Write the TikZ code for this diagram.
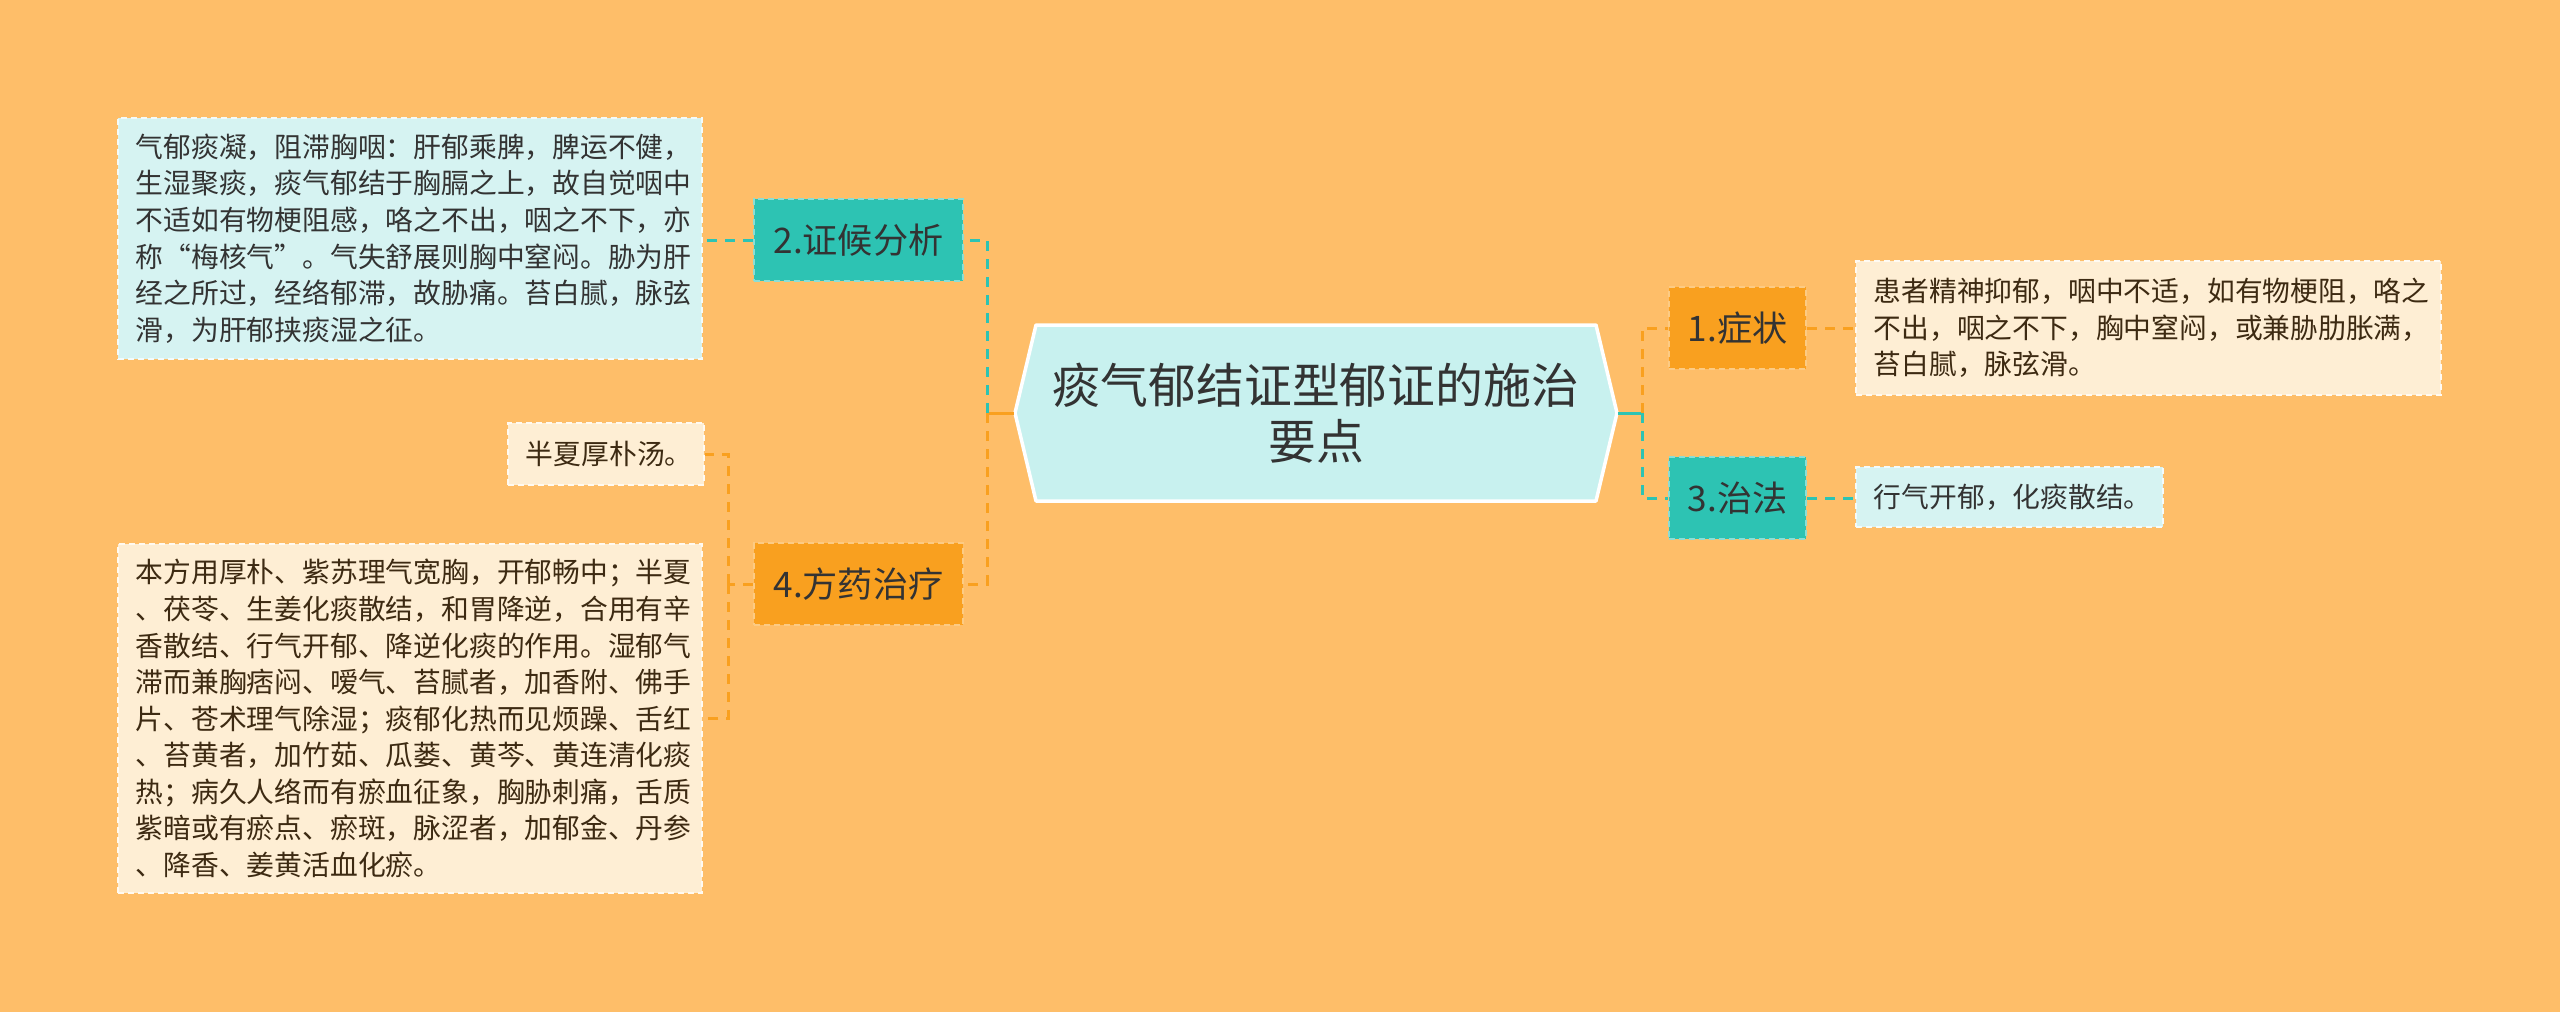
\documentclass[tikz,border=0pt]{standalone}
\usepackage{fontspec}
\newfontfamily\cjk{Noto Sans CJK SC}
\usepackage{tikz}
\usetikzlibrary{positioning}
\definecolor{bgorange}{HTML}{FEBE69}
\definecolor{nodeorange}{HTML}{F9A01F}
\definecolor{nodeteal}{HTML}{2DC3B3}
\definecolor{leafcyan}{HTML}{D6F3F2}
\definecolor{leafcream}{HTML}{FEEED4}
\definecolor{hexfill}{HTML}{C8F1EF}
\definecolor{darktext}{HTML}{333333}
\definecolor{browntext}{HTML}{3D2A12}
\tikzset{
  branch/.style={minimum width=2.09cm, minimum height=0.82cm, inner sep=0pt,
    font=\cjk\fontsize{10pt}{12pt}\selectfont, text=darktext,
    line width=0.02cm, dash pattern=on 0.06cm off 0.04cm},
  tealbox/.style={branch, fill=nodeteal, draw=nodeteal!55!white},
  orangebox/.style={branch, fill=nodeorange, draw=nodeorange!55!white},
  leaf/.style={inner xsep=0.18cm, inner ysep=0pt, align=left,
    font=\cjk\fontsize{7.9pt}{10.4pt}\selectfont,
    line width=0.02cm, dash pattern=on 0.06cm off 0.04cm},
  cyanleaf/.style={leaf, fill=leafcyan, draw=white!70!leafcyan, text=darktext},
  creamleaf/.style={leaf, fill=leafcream, draw=white!70!leafcream, text=browntext},
  tealline/.style={draw=nodeteal, line width=0.03cm, dash pattern=on 0.1cm off 0.08cm},
  orangeline/.style={draw=nodeorange, line width=0.03cm, dash pattern=on 0.1cm off 0.08cm},
}
\begin{document}
\begin{tikzpicture}[x=0.01cm, y=-0.01cm]
\useasboundingbox (0,0) rectangle (2560,1012);
\fill[bgorange] (0,0) rectangle (2560,1012);

\draw[fill=hexfill, draw=white, line width=0.035cm, line join=round]
  (1015,413) -- (1036,325) -- (1596,325) -- (1617,413) -- (1596,501) -- (1036,501) -- cycle;
\node (main) at (1316,413) [minimum width=6.02cm, minimum height=1.76cm, inner sep=0pt, align=center,
  text=darktext, font=\cjk\fontsize{13.6pt}{15.8pt}\selectfont]{痰气郁结证型郁证的施治\\要点};

\node (n1) at (1737.5,328) [orangebox, minimum width=1.37cm]{1.症状};
\node (n3) at (1737.5,498) [tealbox, minimum width=1.37cm]{3.治法};
\node (n2) at (858.5,240) [tealbox]{2.证候分析};
\node (n4) at (858.5,584) [orangebox]{4.方药治疗};

\node (l1) at (2148.5,328) [creamleaf, text width=5.49cm, minimum height=1.34cm]{患者精神抑郁，咽中不适，如有物梗阻，咯之\\不出，咽之不下，胸中窒闷，或兼胁肋胀满，\\苔白腻，脉弦滑。};
\node (l3) at (2009.5,497) [cyanleaf, text width=2.71cm, minimum height=0.6cm]{行气开郁，化痰散结。};
\node (l2) at (410,238.5) [cyanleaf, text width=5.48cm, minimum height=2.41cm]{气郁痰凝，阻滞胸咽：肝郁乘脾，脾运不健，\\生湿聚痰，痰气郁结于胸膈之上，故自觉咽中\\不适如有物梗阻感，咯之不出，咽之不下，亦\\称“梅核气”。气失舒展则胸中窒闷。胁为肝\\经之所过，经络郁滞，故胁痛。苔白腻，脉弦\\滑，为肝郁挟痰湿之征。};
\node (l4a) at (606,454) [creamleaf, text width=1.6cm, minimum height=0.62cm]{半夏厚朴汤。};
\node (l4b) at (410,718.5) [creamleaf, text width=5.48cm, minimum height=3.49cm]{本方用厚朴、紫苏理气宽胸，开郁畅中；半夏\\、茯苓、生姜化痰散结，和胃降逆，合用有辛\\香散结、行气开郁、降逆化痰的作用。湿郁气\\滞而兼胸痞闷、嗳气、苔腻者，加香附、佛手\\片、苍术理气除湿；痰郁化热而见烦躁、舌红\\、苔黄者，加竹茹、瓜蒌、黄芩、黄连清化痰\\热；病久人络而有瘀血征象，胸胁刺痛，舌质\\紫暗或有瘀点、瘀斑，脉涩者，加郁金、丹参\\、降香、姜黄活血化瘀。};

\coordinate (lj) at (987,413);
\coordinate (rj) at (1642,413);
\coordinate (fj) at (728,584);

\draw[orangeline, solid] (main.west) -- (lj);
\draw[tealline] (lj) |- (n2.east);
\draw[orangeline] (lj) |- (n4.east);
\draw[tealline, solid] (main.east) -- (rj);
\draw[orangeline] (rj) |- (n1.west);
\draw[tealline] (rj) |- (n3.west);
\draw[tealline] (n2.west) -- (n2.west -| l2.east);
\draw[orangeline] (n1.east) -- (n1.east -| l1.west);
\draw[tealline] (n3.east) -- (n3.east -| l3.west);
\draw[orangeline] (n4.west) -- (fj);
\draw[orangeline] (fj) |- (l4a.east);
\draw[orangeline] (fj) |- (l4b.east);
\end{tikzpicture}
\end{document}
